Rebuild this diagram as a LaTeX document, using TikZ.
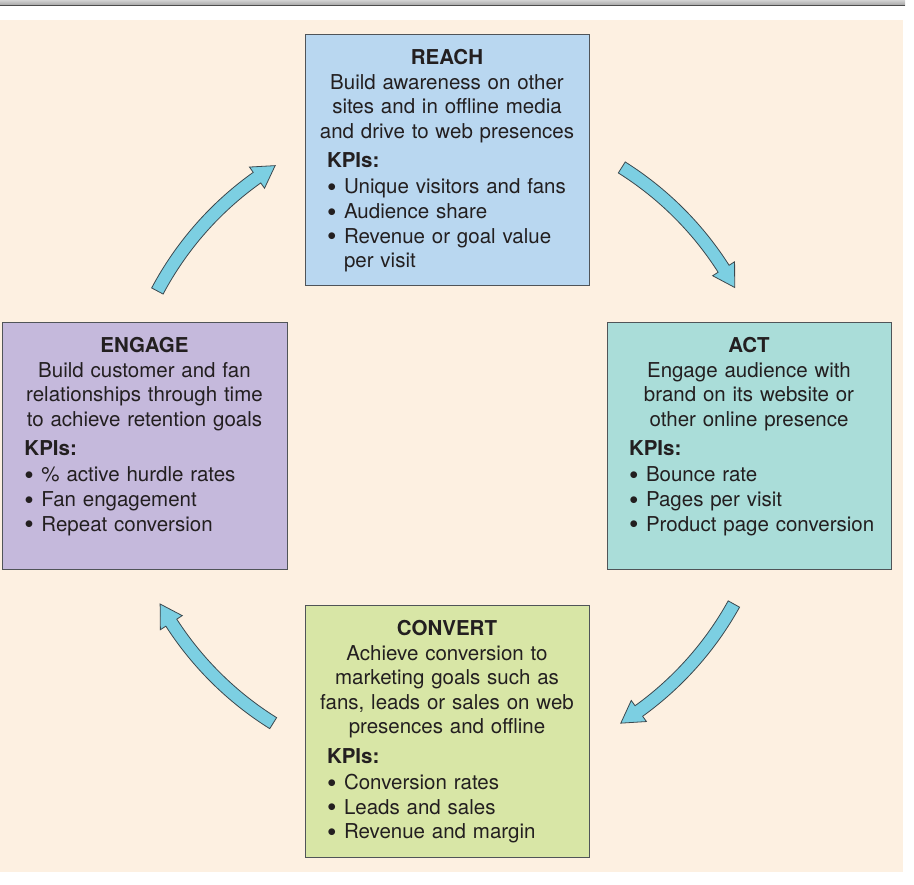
\documentclass[tikz,border=0pt]{standalone}
\usepackage{fontspec}
\setmainfont{TeX Gyre Heros}
\usetikzlibrary{positioning}

\definecolor{pagebeige}{RGB}{253,240,225}
\definecolor{boxline}{RGB}{80,84,88}
\definecolor{inkgray}{RGB}{35,31,32}
\definecolor{reachblue}{RGB}{185,215,240}
\definecolor{engagelilac}{RGB}{197,185,220}
\definecolor{actteal}{RGB}{170,221,217}
\definecolor{convertlime}{RGB}{216,230,166}
\definecolor{arrowcyan}{RGB}{124,207,226}
\definecolor{arrowline}{RGB}{60,72,78}

% title, description, then the list of KPIs
\newcommand{\stagebody}[3]{%
  {\centering\textbf{#1}\\#2\par}%
  \vspace{5pt}%
  {\leftskip=12pt\noindent\textbf{KPIs:}\par\vspace{1.5pt}#3\par}}
\newcommand{\kpi}[1]{\par\noindent\hangindent=17pt\hangafter=1%
  \makebox[17pt][l]{\raisebox{-2.6pt}{\fontsize{27}{27}\selectfont\textbullet}}#1}
\newcommand{\kpibreak}{\hfil\break}

% block arrow on the ring round the hub: tail angle, head base angle, tip angle
\newcommand{\cyclearrow}[3]{%
  \draw[ringarrow,shift={(hub)}] (#1:321.5) arc[start angle=#1, end angle=#2, radius=321.5]
    -- (#2:315) -- (#3:328) -- (#2:341) -- (#2:334.5)
    arc[start angle=#2, end angle=#1, radius=334.5] -- cycle;}

\begin{document}
\begin{tikzpicture}
[x=1pt,y=1pt,
 stage/.style={shape=rectangle,draw=boxline,line width=0.9pt,inner sep=0pt,minimum width=284pt},
 stagetext/.style={inner sep=0pt,text width=264pt,text=inkgray,anchor=north,
   font=\fontsize{20.5}{24.6}\selectfont},
 ringarrow/.style={fill=arrowcyan,draw=arrowline,line width=0.8pt,line join=miter}]

\useasboundingbox (0,0) rectangle (914,885);
\fill[pagebeige] (0,13) rectangle (903,865);
\fill[top color=gray!35,bottom color=gray!75] (0,879) rectangle (905,885);
\draw[gray!60!black,line width=0.8pt] (0,879.4) -- (905,879.4);

\coordinate (hub) at (447,440);

\node (reach) [stage,fill=reachblue,minimum height=251pt] at (447,725.5) {};
\node (engage) [stage,fill=engagelilac,minimum width=285pt,minimum height=247pt] at (144.5,439.5) {};
\node (act) [stage,fill=actteal,minimum height=247pt] at (749,439.5) {};
\node (convert) [stage,fill=convertlime,minimum height=252pt] at (447,154) {};

\node (reach-text) [stagetext,below=15.5pt of reach.north] {\stagebody{REACH}
  {Build awareness on other\\sites and in offline media\\and drive to web presences}
  {\kpi{Unique visitors and fans}\kpi{Audience share}\kpi{Revenue or goal value\kpibreak per visit}}};
\node (engage-text) [stagetext,below=15.5pt of engage.north] {\stagebody{ENGAGE}
  {Build customer and fan\\relationships through time\\to achieve retention goals}
  {\kpi{\% active hurdle rates}\kpi{Fan engagement}\kpi{Repeat conversion}}};
\node (act-text) [stagetext,below=15.5pt of act.north] {\stagebody{ACT}
  {Engage audience with\\brand on its website or\\other online presence}
  {\kpi{Bounce rate}\kpi{Pages per visit}\kpi{Product page conversion}}};
\node (convert-text) [stagetext,below=15.5pt of convert.north] {\stagebody{CONVERT}
  {Achieve conversion to\\marketing goals such as\\fans, leads or sales on web\\presences and offline}
  {\kpi{Conversion rates}\kpi{Leads and sales}\kpi{Revenue and margin}}};

% arrows round the cycle, clockwise
\cyclearrow{152}{125.4}{121.6}
\cyclearrow{57.8}{32.5}{28.7}
\cyclearrow{-29}{-54.2}{-58}
\cyclearrow{-122}{-147.2}{-151}
\end{tikzpicture}
\end{document}
